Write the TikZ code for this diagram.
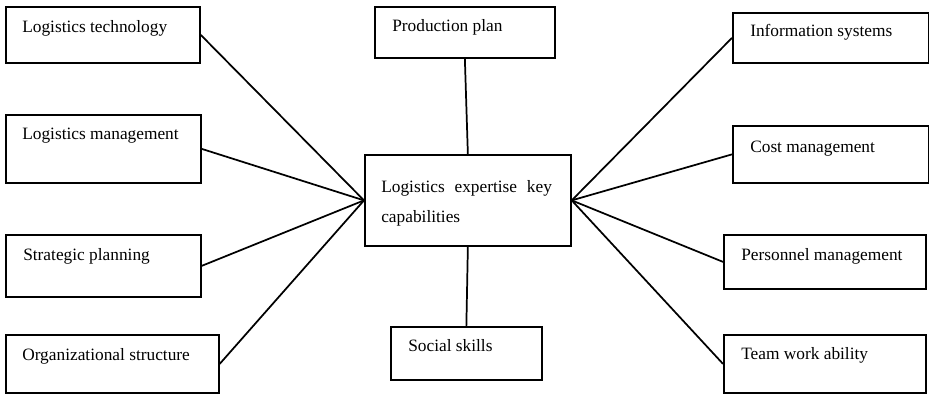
\documentclass[tikz,border=0pt]{standalone}
\usepackage{fontspec}
\setmainfont{Liberation Serif}
\begin{document}
\begin{tikzpicture}[x=0.75pt,y=-0.75pt,
    capbox/.style={draw,line width=1.3pt,anchor=north west,inner sep=0pt},
    tag/.style={anchor=base west,inner sep=0pt,font=\fontsize{13}{22.5}\selectfont},
    link/.style={line width=1.3pt}]
    \useasboundingbox (0,0) rectangle (929,394);

    \node[capbox,minimum width=145.5pt,minimum height=42pt] (tech) at (5,6) {};
    \node[capbox,minimum width=146.25pt,minimum height=51pt] (mgmt) at (5,114) {};
    \node[capbox,minimum width=146.25pt,minimum height=46.5pt] (strat) at (5,234) {};
    \node[capbox,minimum width=159.75pt,minimum height=43.5pt] (org) at (5,334) {};
    \node[capbox,minimum width=135pt,minimum height=38.25pt] (plan) at (374,6) {};
    \node[capbox,minimum width=154.5pt,minimum height=68.25pt] (core) at (364,154) {};
    \node[capbox,minimum width=113.25pt,minimum height=39.75pt] (social) at (390,326) {};
    \node[capbox,minimum width=147pt,minimum height=37.5pt] (info) at (732,12) {};
    \node[capbox,minimum width=147pt,minimum height=42.75pt] (cost) at (732,125) {};
    \node[capbox,minimum width=151.5pt,minimum height=40.5pt] (staff) at (723,234) {};
    \node[capbox,minimum width=151.5pt,minimum height=43.5pt] (team) at (723,334) {};

    \node[tag] (techtxt) at ([shift={(17,26)}]tech.north west) {Logistics technology};
    \node[tag] (mgmttxt) at ([shift={(17,25)}]mgmt.north west) {Logistics management};
    \node[tag] (strattxt) at ([shift={(18,26)}]strat.north west) {Strategic planning};
    \node[tag] (orgtxt) at ([shift={(17,26)}]org.north west) {Organizational structure};
    \node[tag] (plantxt) at ([shift={(18,25)}]plan.north west) {Production plan};
    \node[tag,anchor=north west,text width=128pt,align=left] (coretxt) at ([shift={(17,26)}]core.north west)
        {Logistics\hfill expertise\hfill key\\capabilities};
    \node[tag] (socialtxt) at ([shift={(18,25)}]social.north west) {Social skills};
    \node[tag] (infotxt) at ([shift={(18,24)}]info.north west) {Information systems};
    \node[tag] (costtxt) at ([shift={(18,27)}]cost.north west) {Cost management};
    \node[tag] (stafftxt) at ([shift={(18,26)}]staff.north west) {Personnel management};
    \node[tag] (teamtxt) at ([shift={(18,25)}]team.north west) {Team work ability};

    \foreach \side in {tech,mgmt,strat,org}
        \draw[link] (\side.east) -- (core.west);
    \foreach \side in {info,cost,staff,team}
        \draw[link] (\side.west) -- (core.east);
    \draw[link] (plan.south) -- (core.north);
    \draw[link] (core.south) -- (social.north);

\end{tikzpicture}
\end{document}
